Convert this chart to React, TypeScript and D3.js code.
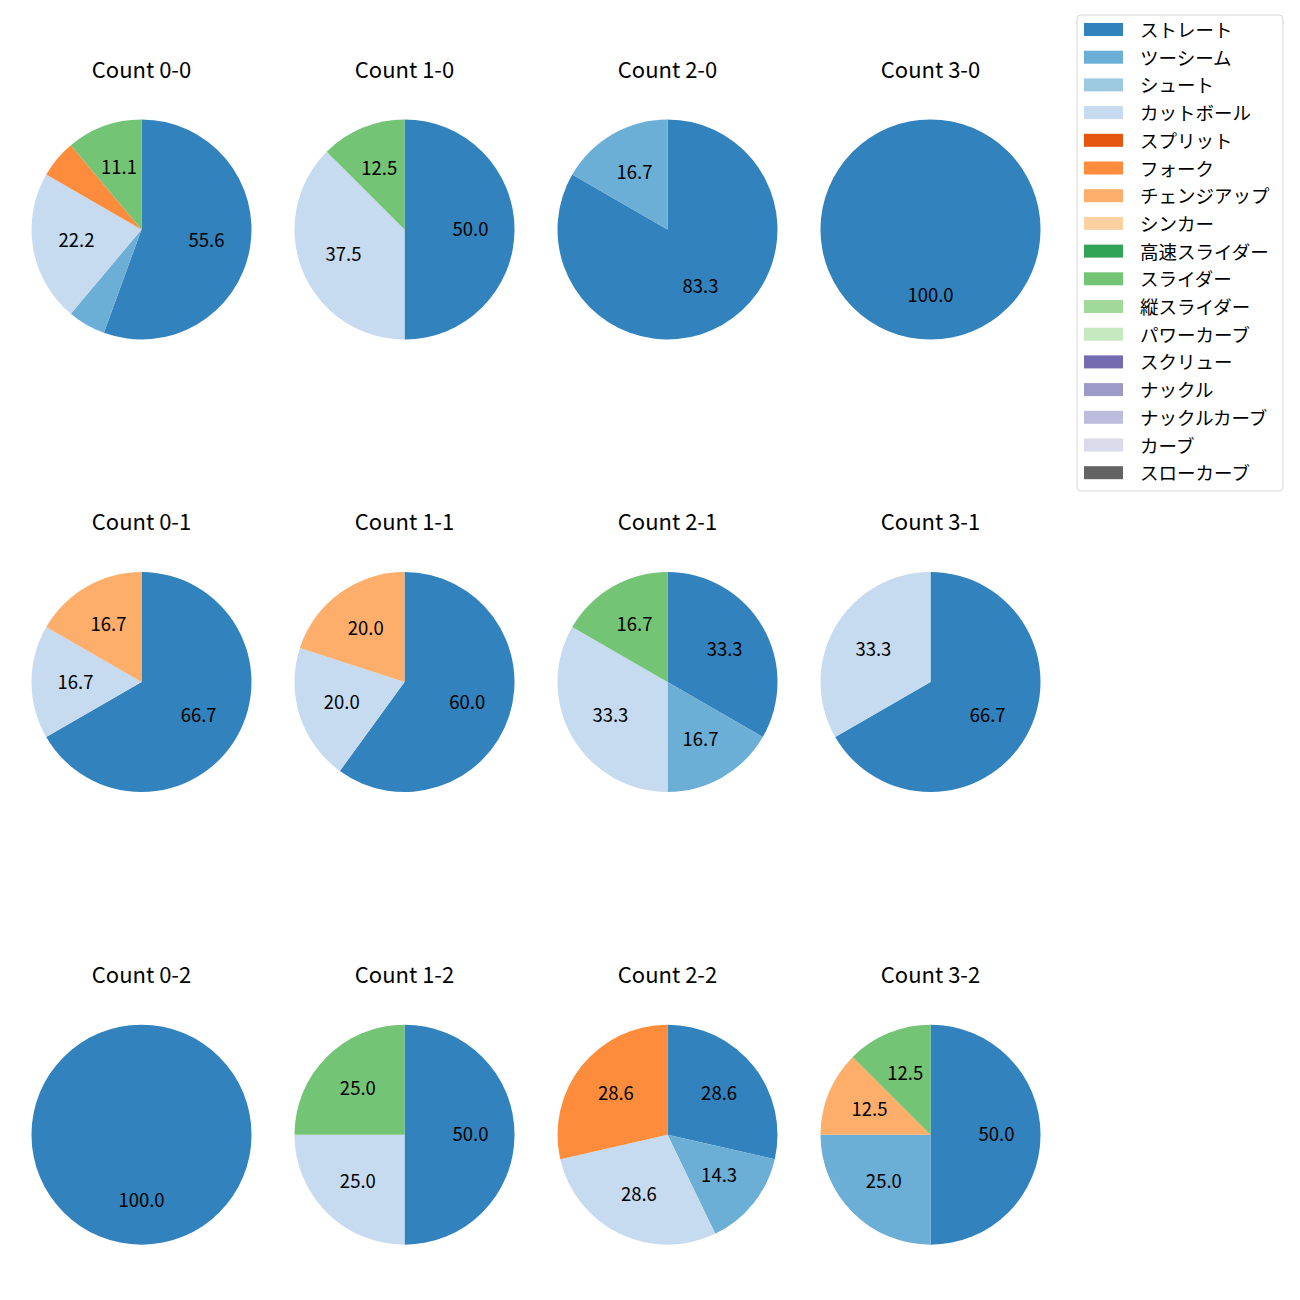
import React from "react";
import * as d3 from "d3";

const pitchTypes = [
  "ストレート", "ツーシーム", "シュート", "カットボール", "スプリット", "フォーク",
  "チェンジアップ", "シンカー", "高速スライダー", "スライダー", "縦スライダー",
  "パワーカーブ", "スクリュー", "ナックル", "ナックルカーブ", "カーブ", "スローカーブ",
];
const pitchColors = [
  "#3182bd", "#6baed6", "#9ecae1", "#c6dbef", "#e6550d", "#fd8d3c",
  "#fdae6b", "#fdd0a2", "#31a354", "#74c476", "#a1d99b", "#c7e9c0",
  "#756bb1", "#9e9ac8", "#bcbddc", "#dadaeb", "#636363",
];

const countLabels = [
  "Count 0-0", "Count 1-0", "Count 2-0", "Count 3-0",
  "Count 0-1", "Count 1-1", "Count 2-1", "Count 3-1",
  "Count 0-2", "Count 1-2", "Count 2-2", "Count 3-2",
];

// pitch counts per pitch type (pitchTypes order), read from the shares
const count00 = [10, 1, 0, 4, 0, 1, 0, 0, 0, 2, 0, 0, 0, 0, 0, 0, 0];
const count10 = [4, 0, 0, 3, 0, 0, 0, 0, 0, 1, 0, 0, 0, 0, 0, 0, 0];
const count20 = [5, 1, 0, 0, 0, 0, 0, 0, 0, 0, 0, 0, 0, 0, 0, 0, 0];
const count30 = [1, 0, 0, 0, 0, 0, 0, 0, 0, 0, 0, 0, 0, 0, 0, 0, 0];
const count01 = [4, 0, 0, 1, 0, 0, 1, 0, 0, 0, 0, 0, 0, 0, 0, 0, 0];
const count11 = [3, 0, 0, 1, 0, 0, 1, 0, 0, 0, 0, 0, 0, 0, 0, 0, 0];
const count21 = [2, 1, 0, 2, 0, 0, 0, 0, 0, 1, 0, 0, 0, 0, 0, 0, 0];
const count31 = [2, 0, 0, 1, 0, 0, 0, 0, 0, 0, 0, 0, 0, 0, 0, 0, 0];
const count02 = [1, 0, 0, 0, 0, 0, 0, 0, 0, 0, 0, 0, 0, 0, 0, 0, 0];
const count12 = [2, 0, 0, 1, 0, 0, 0, 0, 0, 1, 0, 0, 0, 0, 0, 0, 0];
const count22 = [2, 1, 0, 2, 0, 2, 0, 0, 0, 0, 0, 0, 0, 0, 0, 0, 0];
const count32 = [4, 2, 0, 0, 0, 0, 1, 0, 0, 1, 0, 0, 0, 0, 0, 0, 0];

const countValues = [
  count00, count10, count20, count30,
  count01, count11, count21, count31,
  count02, count12, count22, count32,
];

const FONT = "'Noto Sans CJK JP', 'Noto Sans', sans-serif";
const W = 1300;
const H = 1300;
const colCenters = [141.5, 404.5, 667.5, 930.5];
const rowCenters = [229.5, 682, 1134.7];
const R = 110;
const LABEL_MIN = 10;

type Item = { v: number; i: number };

function Pie({ values, title, cx, cy }: { values: number[]; title: string; cx: number; cy: number }) {
  const items: Item[] = values.map((v, i) => ({ v, i })).filter((d) => d.v > 0);
  const total = d3.sum(items, (d) => d.v);
  const pie = d3.pie<Item>().sort(null).value((d) => d.v);
  const arcs = pie(items);
  const arc = d3.arc<d3.PieArcDatum<Item>>().innerRadius(0).outerRadius(R);
  const labelArc = d3.arc<d3.PieArcDatum<Item>>().innerRadius(R * 0.6).outerRadius(R * 0.6);
  return (
    <g transform={`translate(${cx},${cy})`}>
      <text x={0} y={-R - 52} textAnchor="middle" dominantBaseline="central" fontSize={22} fontFamily={FONT} fill="#000">
        {title}
      </text>
      {arcs.map((a) => (
        <path key={a.data.i} d={arc(a) || ""} fill={pitchColors[a.data.i]} />
      ))}
      {arcs.map((a) => {
        const pct = (a.data.v / total) * 100;
        if (pct < LABEL_MIN) return null;
        const [lx, ly] = items.length === 1 ? [0, R * 0.6] : labelArc.centroid(a);
        return (
          <text key={"t" + a.data.i} x={lx} y={ly - 1.5} textAnchor="middle" dominantBaseline="central" fontSize={18.5} fontFamily={FONT} fill="#000">
            {pct.toFixed(1)}
          </text>
        );
      })}
    </g>
  );
}

export default function App() {
  const legX = 1077;
  const legY = 15;
  const rowH = 27.7;
  return (
    <svg width={W} height={H} style={{ position: "absolute", left: 0, top: 0, background: "#fff" }}>
      <rect x={0} y={0} width={W} height={H} fill="#fff" />
      {countValues.map((vals, k) => (
        <Pie key={k} values={vals} title={countLabels[k]} cx={colCenters[k % 4]} cy={rowCenters[Math.floor(k / 4)]} />
      ))}
      <rect x={legX} y={legY} width={206} height={476} rx={4} fill="#fff" fillOpacity={0.8} stroke="#d6d6d6" strokeWidth={1} />
      {pitchTypes.map((p, i) => (
        <g key={p} transform={`translate(${legX}, ${legY + 14.5 + i * rowH})`}>
          <rect x={7} y={-6.5} width={39} height={13} fill={pitchColors[i]} />
          <text x={63} y={-0.5} dominantBaseline="central" fontSize={18.5} fontFamily={FONT} fill="#000">
            {p}
          </text>
        </g>
      ))}
    </svg>
  );
}
